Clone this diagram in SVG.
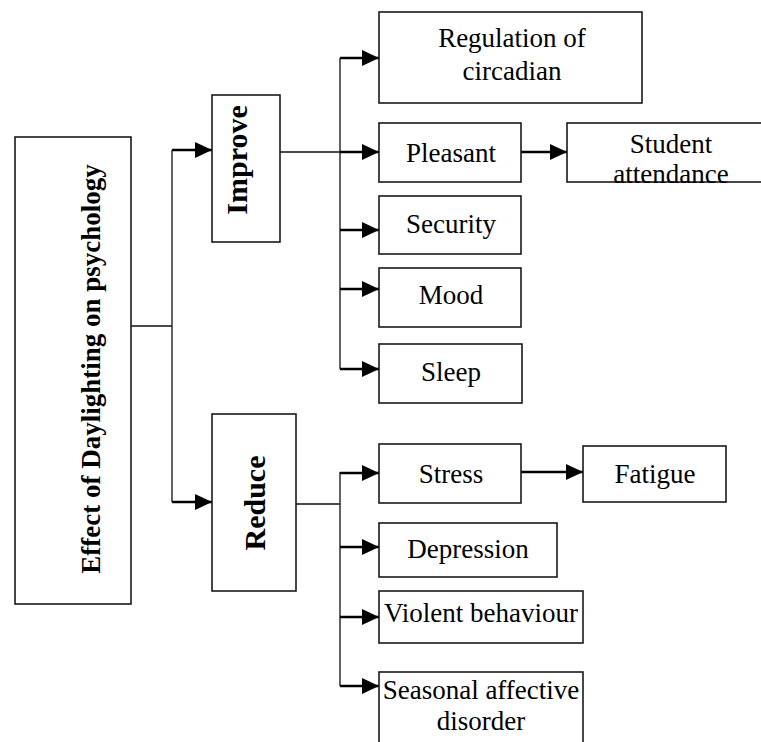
<svg xmlns="http://www.w3.org/2000/svg" width="761" height="742" viewBox="0 0 761 742">
<style>
.box{fill:#fff;stroke:#1a1a1a;stroke-width:1.6}
.t{font-family:'Liberation Serif','Times New Roman',Times,Tinos,'DejaVu Serif',serif;font-size:27px;fill:#000;text-anchor:middle}
.b{font-weight:bold}
.ln{fill:none;stroke:#111;stroke-width:1.3}
.ar{fill:none;stroke:#000;stroke-width:2.4;marker-end:url(#ah)}
</style>
<defs>
<marker id="ah" viewBox="0 0 17 16" refX="17" refY="8" markerWidth="17" markerHeight="16" markerUnits="userSpaceOnUse" orient="auto">
<path d="M0,0 L17,8 L0,16 z" fill="#000"/>
</marker>
</defs>
<rect width="761" height="742" fill="#fff"/>
<g id="connectors">
<path class="ln" d="M131,326 H172 M172,150 V502"/>
<path class="ar" d="M172,150 H212"/>
<path class="ar" d="M172,502 H212"/>
<path class="ln" d="M280,152 H340 M340,58 V369"/>
<path class="ar" d="M340,58 H379"/>
<path class="ar" d="M340,152 H379"/>
<path class="ar" d="M340,230 H379"/>
<path class="ar" d="M340,289 H379"/>
<path class="ar" d="M340,369 H379"/>
<path class="ar" d="M521,152 H567"/>
<path class="ln" d="M296,504 H340 M340,472 V686"/>
<path class="ar" d="M340,473 H379"/>
<path class="ar" d="M340,547 H379"/>
<path class="ar" d="M340,617 H379"/>
<path class="ar" d="M340,686 H379"/>
<path class="ar" d="M521,472 H583"/>
</g>
<g id="main">
<rect class="box" x="15" y="137" width="116" height="467"/>
<text class="t b" font-family="Liberation Serif, serif" transform="translate(100,369) rotate(-90)">Effect of Daylighting on psychology</text>
</g>
<g id="improve">
<rect class="box" x="212" y="95" width="68" height="147"/>
<text class="t b" style="font-size:30px" transform="translate(247,160) rotate(-90)">Improve</text>
</g>
<g id="reduce">
<rect class="box" x="212" y="414" width="84" height="177"/>
<text class="t b" style="font-size:30px" transform="translate(265,503) rotate(-90)">Reduce</text>
</g>
<g id="regulation">
<rect class="box" x="379" y="12" width="263" height="91"/>
<text class="t" x="512" y="47">Regulation of</text>
<text class="t" x="512" y="80">circadian</text>
</g>
<g id="pleasant">
<rect class="box" x="379" y="123" width="142" height="59"/>
<text class="t" x="451" y="162">Pleasant</text>
</g>
<g id="student">
<rect class="box" x="567" y="123" width="210" height="59"/>
<text class="t" x="671" y="153">Student</text>
<text class="t" x="671" y="183">attendance</text>
</g>
<g id="security">
<rect class="box" x="379" y="196" width="142" height="58"/>
<text class="t" x="451" y="233">Security</text>
</g>
<g id="mood">
<rect class="box" x="379" y="268" width="142" height="59"/>
<text class="t" x="451" y="304">Mood</text>
</g>
<g id="sleep">
<rect class="box" x="379" y="344" width="143" height="59"/>
<text class="t" x="451" y="381">Sleep</text>
</g>
<g id="stress">
<rect class="box" x="379" y="444" width="142" height="59"/>
<text class="t" x="451" y="483">Stress</text>
</g>
<g id="fatigue">
<rect class="box" x="583" y="446" width="143" height="56"/>
<text class="t" x="655" y="483">Fatigue</text>
</g>
<g id="depression">
<rect class="box" x="379" y="523" width="178" height="54"/>
<text class="t" x="468" y="558">Depression</text>
</g>
<g id="violent">
<rect class="box" x="379" y="591" width="204" height="52"/>
<text class="t" x="481" y="622">Violent behaviour</text>
</g>
<g id="seasonal">
<rect class="box" x="379" y="672" width="204" height="90"/>
<text class="t" x="481" y="699">Seasonal affective</text>
<text class="t" x="481" y="730">disorder</text>
</g>
</svg>
